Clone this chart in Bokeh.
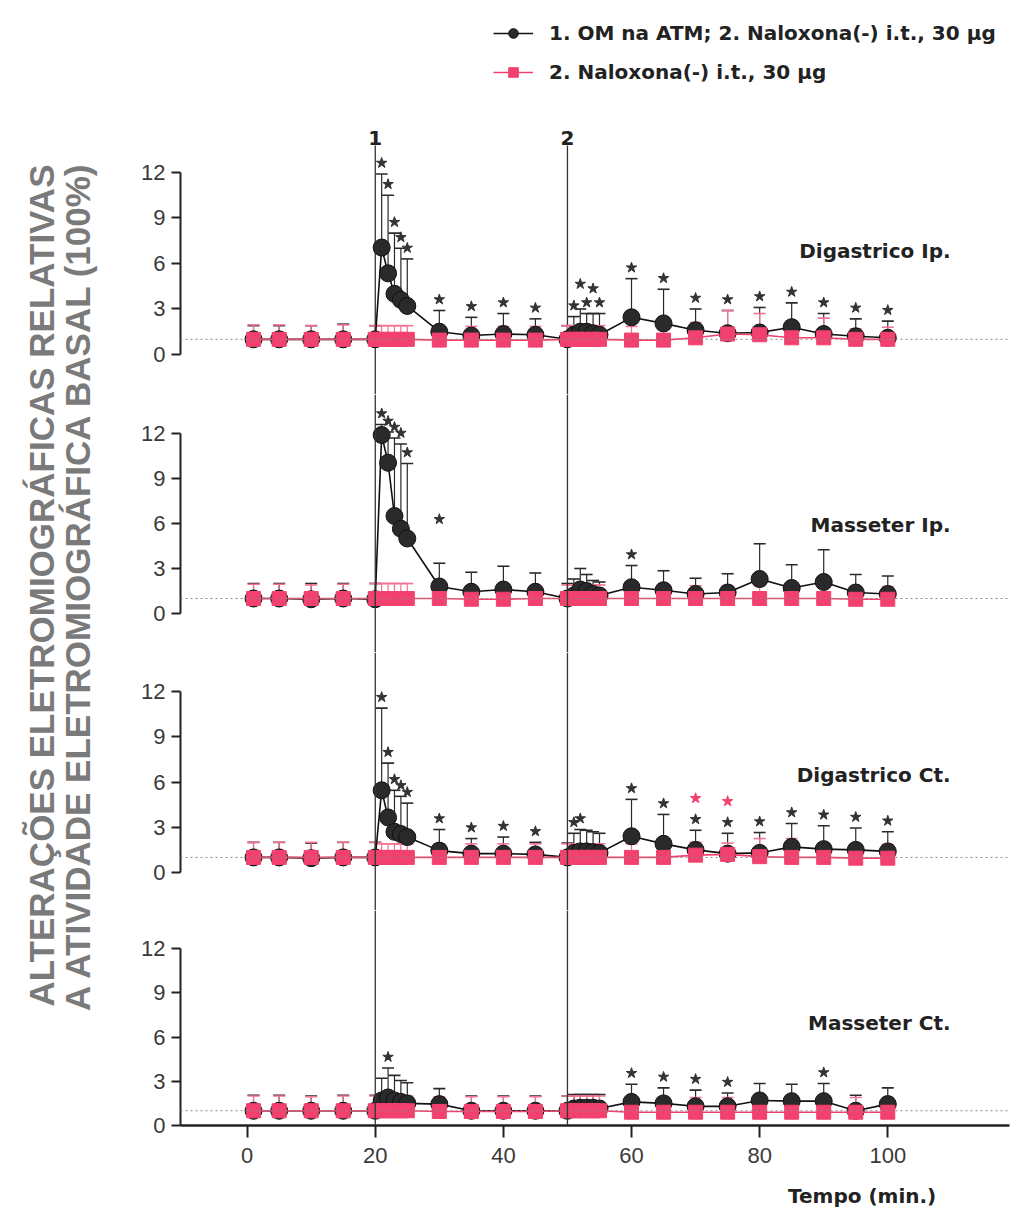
import math
from bokeh.plotting import figure
from bokeh.layouts import column, row
from bokeh.models import Range1d, Span, Label, Legend, LegendItem, FixedTicker
from bokeh.core.properties import value
from bokeh.embed import file_html
from bokeh.resources import INLINE

# ---------------- data ----------------
time_min = [1, 5, 10, 15, 20, 21, 22, 23, 24, 25, 30, 35, 40, 45, 50,
            51, 52, 53, 54, 55, 60, 65, 70, 75, 80, 85, 90, 95, 100]

panel_names = ["Digastrico Ip.", "Masseter Ip.", "Digastrico Ct.", "Masseter Ct."]

# Group 1: OM na ATM; Naloxona(-) i.t. 30 ug  (mean, upper error)
dig_ip_om = [1.0, 1.0, 1.0, 1.0, 1.0, 7.05, 5.35, 4.0, 3.6, 3.2, 1.5, 1.25, 1.35, 1.3, 1.0,
             1.3, 1.5, 1.5, 1.4, 1.3, 2.45, 2.05, 1.6, 1.4, 1.45, 1.8, 1.35, 1.2, 1.1]
dig_ip_om_err = [0.9, 0.9, 0.9, 1.0, 0.9, 4.85, 5.15, 4.0, 3.4, 3.1, 1.4, 1.2, 1.35, 1.05, 0.9,
                 1.2, 1.5, 1.2, 1.3, 1.4, 2.55, 2.25, 1.4, 1.5, 1.65, 1.6, 1.35, 1.15, 1.1]
mas_ip_om = [1.0, 1.0, 0.95, 1.0, 0.95, 11.9, 10.05, 6.5, 5.65, 5.0, 1.8, 1.45, 1.6, 1.45, 1.0,
             1.2, 1.6, 1.5, 1.3, 1.2, 1.75, 1.55, 1.3, 1.4, 2.3, 1.7, 2.1, 1.4, 1.3]
mas_ip_om_err = [1.0, 1.0, 1.05, 1.0, 1.05, 0.7, 2.05, 5.2, 5.65, 5.0, 1.55, 1.3, 1.55, 1.25, 1.0,
                 1.1, 1.4, 1.1, 0.9, 0.9, 1.45, 1.3, 1.05, 1.25, 2.35, 1.55, 2.15, 1.2, 1.2]
dig_ct_om = [1.0, 1.0, 0.95, 1.0, 1.0, 5.45, 3.65, 2.7, 2.55, 2.35, 1.45, 1.25, 1.25, 1.2, 1.0,
             1.3, 1.4, 1.4, 1.35, 1.3, 2.4, 1.9, 1.5, 1.25, 1.3, 1.7, 1.55, 1.5, 1.4]
dig_ct_om_err = [1.0, 1.0, 1.0, 1.0, 1.0, 5.45, 3.6, 2.75, 2.5, 2.25, 1.4, 1.0, 1.1, 0.8, 0.95,
                 1.3, 1.45, 1.4, 1.35, 1.3, 2.45, 1.95, 1.3, 1.35, 1.35, 1.55, 1.55, 1.45, 1.3]
mas_ct_om = [1.0, 1.0, 1.0, 1.0, 1.0, 1.7, 1.9, 1.7, 1.6, 1.5, 1.45, 1.0, 1.0, 1.0, 1.0,
             1.15, 1.2, 1.2, 1.2, 1.15, 1.6, 1.5, 1.3, 1.3, 1.7, 1.65, 1.65, 1.0, 1.45]
mas_ct_om_err = [1.05, 1.05, 1.0, 1.05, 1.05, 1.5, 2.0, 1.7, 1.45, 1.4, 1.05, 1.0, 1.0, 1.0, 1.0,
                 0.95, 0.9, 0.9, 0.9, 0.95, 1.2, 1.05, 1.1, 0.9, 1.15, 1.15, 1.2, 1.05, 1.1]

# Group 2: Naloxona(-) i.t. 30 ug only
dig_ip_nal = [1.0, 1.0, 1.0, 1.0, 1.0, 1.0, 1.0, 1.0, 1.0, 1.0, 0.95, 0.95, 0.95, 0.95, 1.0,
              1.0, 1.0, 1.0, 1.0, 1.0, 0.95, 0.95, 1.1, 1.35, 1.3, 1.1, 1.1, 1.0, 1.0]
dig_ip_nal_err = [0.95, 0.95, 0.9, 0.95, 0.9, 0.9, 0.9, 0.9, 0.9, 0.9, 0.9, 0.9, 0.9, 0.9, 0.9,
                  0.9, 0.9, 0.9, 0.9, 0.9, 0.9, 0.9, 1.0, 1.55, 1.4, 1.1, 1.3, 0.7, 0.8]
mas_ip_nal = [1.0, 1.0, 1.0, 1.0, 1.0, 1.0, 1.0, 1.0, 1.0, 1.0, 1.0, 0.95, 0.95, 1.0, 1.0,
              1.0, 1.0, 1.0, 1.0, 1.0, 1.0, 1.0, 1.0, 1.0, 1.0, 1.0, 1.0, 0.95, 0.95]
mas_ip_nal_err = [0.95, 0.95, 0.9, 0.95, 1.0, 1.0, 1.0, 1.0, 1.0, 1.0, 0.9, 0.85, 0.9, 0.85, 0.9,
                  0.9, 0.9, 0.9, 0.9, 0.9, 0.85, 0.85, 0.85, 0.85, 0.85, 0.85, 0.85, 0.85, 0.85]
dig_ct_nal = [1.0, 1.0, 1.0, 1.0, 1.0, 1.0, 1.0, 1.0, 1.0, 1.0, 1.0, 1.0, 1.0, 1.0, 1.0,
              1.0, 1.0, 1.0, 1.0, 1.0, 1.0, 1.0, 1.15, 1.2, 1.05, 1.0, 1.0, 0.95, 0.95]
dig_ct_nal_err = [1.0, 1.0, 1.0, 1.0, 1.0, 0.9, 0.9, 0.9, 0.9, 0.9, 0.9, 0.9, 0.9, 0.9, 0.9,
                  0.9, 0.9, 0.9, 0.9, 0.9, 0.9, 0.9, 0.85, 0.75, 1.2, 1.25, 0.9, 0.9, 0.9]
mas_ct_nal = [1.0, 1.0, 1.0, 1.0, 1.0, 1.0, 1.0, 1.0, 1.0, 1.0, 0.95, 0.95, 0.95, 0.95, 1.0,
              1.0, 1.0, 1.0, 1.0, 1.0, 0.9, 0.9, 0.9, 0.9, 0.9, 0.9, 0.9, 0.9, 0.9]
mas_ct_nal_err = [1.0, 1.0, 0.95, 1.0, 1.0, 1.0, 1.0, 1.0, 1.0, 1.0, 1.0, 1.0, 1.0, 1.0, 1.0,
                  1.0, 1.0, 1.0, 1.0, 1.0, 1.0, 1.0, 1.0, 1.0, 1.0, 1.0, 1.0, 1.0, 1.0]

om_means = [dig_ip_om, mas_ip_om, dig_ct_om, mas_ct_om]
om_errs = [dig_ip_om_err, mas_ip_om_err, dig_ct_om_err, mas_ct_om_err]
nal_means = [dig_ip_nal, mas_ip_nal, dig_ct_nal, mas_ct_nal]
nal_errs = [dig_ip_nal_err, mas_ip_nal_err, dig_ct_nal_err, mas_ct_nal_err]

# significance (*) per panel
sig_om = [
    [21, 22, 23, 24, 25, 30, 35, 40, 45, 51, 52, 53, 54, 55, 60, 65, 70, 75, 80, 85, 90, 95, 100],
    [21, 22, 23, 24, 25, 30, 60],
    [21, 22, 23, 24, 25, 30, 35, 40, 45, 51, 52, 60, 65, 70, 75, 80, 85, 90, 95, 100],
    [22, 60, 65, 70, 75, 90],
]
sig_nal = [[], [], [70, 75], []]

injection_times = [20, 50]
injection_labels = ["1", "2"]
x_ticks = [0, 20, 40, 60, 80, 100]
y_ticks = [0, 3, 6, 9, 12]
legend_labels = ["1. OM na ATM; 2. Naloxona(-) i.t., 30 \u00b5g", "2. Naloxona(-) i.t., 30 \u00b5g"]
y_title = ["ALTERA\u00c7\u00d5ES ELETROMIOGR\u00c1FICAS RELATIVAS",
           "A ATIVIDADE ELETROMIOGR\u00c1FICA BASAL (100%)"]
x_title = "Tempo (min.)"

# ---------------- layout / style ----------------
BLACK = "#2a2a2a"
PINK = "#f2416e"
PINK_ERR = "#f27394"
GRAY_TXT = "#7a7a7a"
TICK_TXT = "#3a3a3a"

PX_ZERO = [354, 613, 872, 1125]
PX_UNIT = [15.17, 15.0, 15.08, 14.75]
FR_TOP = [0, 394, 652, 910]
FR_BOT = [394, 652, 910, 1125]
BOTTOM_BORDER = 50
TOTAL_H = 1212
PANEL_W = 929
TITLE_W = 1029 - PANEL_W
STAR_LIFT_PX = 11
STAR_EXTRA_PX = [{52: 14, 54: 14}, {30: 33}, {}, {}]
PANEL_TITLE_Y_PX = [250, 524, 774, 1022]

x_range = Range1d(-10.4, 119.0)


def style_blank(p):
    p.outline_line_color = None
    p.grid.visible = False
    p.background_fill_color = "white"


figs = []
legend_items = []
for k in range(4):
    s = PX_UNIT[k]
    ystart = (PX_ZERO[k] - FR_BOT[k]) / s
    yend = (PX_ZERO[k] - FR_TOP[k]) / s
    last = (k == 3)
    p = figure(width=PANEL_W,
               height=FR_BOT[k] - FR_TOP[k] + (BOTTOM_BORDER if last else 0),
               x_range=x_range, y_range=Range1d(ystart, yend),
               output_backend="svg", toolbar_location=None,
               x_axis_location="below" if last else None,
               min_border_left=80, min_border_right=20,
               min_border_top=0, min_border_bottom=BOTTOM_BORDER if last else 0)
    style_blank(p)

    # y axis
    ya = p.yaxis[0]
    ya.ticker = FixedTicker(ticks=y_ticks)
    ya.bounds = (0, 12)
    ya.axis_line_width = 2
    ya.axis_line_color = "#222222"
    ya.major_tick_line_width = 2
    ya.major_tick_line_color = "#222222"
    ya.major_tick_out = 9
    ya.major_tick_in = 0
    ya.minor_tick_line_color = None
    ya.major_label_text_font = "Liberation Sans"
    ya.major_label_text_font_size = "22px"
    ya.major_label_text_color = TICK_TXT
    ya.major_label_standoff = 6

    if last:
        xa = p.xaxis[0]
        xa.ticker = FixedTicker(ticks=x_ticks)
        xa.axis_line_width = 2.5
        xa.axis_line_color = "#222222"
        xa.major_tick_line_width = 2
        xa.major_tick_line_color = "#222222"
        xa.major_tick_out = 12
        xa.major_tick_in = 0
        xa.minor_tick_line_color = None
        xa.major_label_text_font = "Liberation Sans"
        xa.major_label_text_font_size = "22px"
        xa.major_label_text_color = TICK_TXT
        xa.major_label_standoff = 10

    # baseline 100 %
    p.add_layout(Span(location=1, dimension="width", line_color="#8a8a8a",
                      line_dash="2 3", line_width=1))

    # injection lines
    if k == 0:
        top = (PX_ZERO[0] - 145) / s
        p.segment(x0=injection_times, y0=[ystart] * 2, x1=injection_times, y1=[top] * 2,
                  line_color="#333333", line_width=1.3)
        p.text(x=injection_times, y=[top] * 2, text=injection_labels,
               text_font=value("DejaVu Sans"), text_font_style="bold",
               text_font_size="20px", text_color="#222222",
               text_align="center", text_baseline="bottom", y_offset=-1)
    else:
        for t0 in injection_times:
            p.add_layout(Span(location=t0, dimension="height", line_color="#333333",
                              line_width=1.3))

    m1, e1 = om_means[k], om_errs[k]
    m2, e2 = nal_means[k], nal_errs[k]
    top1 = [a + b for a, b in zip(m1, e1)]
    top2 = [a + b for a, b in zip(m2, e2)]

    # error bars (upper only)
    p.segment(x0=time_min, y0=m1, x1=time_min, y1=top1, line_color=BLACK, line_width=1.2)
    p.scatter(x=time_min, y=top1, marker="dash", size=12, line_color=BLACK, line_width=1.6)
    p.segment(x0=time_min, y0=m2, x1=time_min, y1=top2, line_color=PINK_ERR, line_width=1.2)
    p.scatter(x=time_min, y=top2, marker="dash", size=12, line_color=PINK_ERR, line_width=1.6)

    l1 = p.line(time_min, m1, line_color="#111111", line_width=1.6)
    c1 = p.scatter(time_min, m1, marker="circle", size=17, fill_color=BLACK,
                   line_color="#111111", line_width=1)
    l2 = p.line(time_min, m2, line_color=PINK, line_width=1.6)
    c2 = p.scatter(time_min, m2, marker="square", size=14, fill_color=PINK,
                   line_color=PINK, line_width=1)
    if k == 0:
        legend_items = [LegendItem(label=legend_labels[0], renderers=[l1, c1]),
                        LegendItem(label=legend_labels[1], renderers=[l2, c2])]

    # significance stars
    sx, sy = [], []
    for t0 in sig_om[k]:
        i = time_min.index(t0)
        sx.append(t0)
        sy.append(top1[i] + (STAR_LIFT_PX + STAR_EXTRA_PX[k].get(t0, 0)) / s)
    if sx:
        p.scatter(sx, sy, marker="star", size=11, fill_color="#333333", line_color="#333333")
    px_, py_ = [], []
    for t0 in sig_nal[k]:
        i = time_min.index(t0)
        px_.append(t0)
        py_.append(top1[i] + (STAR_LIFT_PX + 21) / s)
    if px_:
        p.scatter(px_, py_, marker="star", size=11, fill_color=PINK, line_color=PINK)

    # panel title
    p.add_layout(Label(x=109.8, y=(PX_ZERO[k] - PANEL_TITLE_Y_PX[k]) / s, text=panel_names[k],
                       text_font="DejaVu Sans", text_font_style="bold", text_font_size="20px",
                       text_color="#222222", text_align="right", text_baseline="middle"))
    figs.append(p)

legend = Legend(items=legend_items, location=(313, 310), orientation="vertical",
                glyph_width=40, glyph_height=24, label_height=24, label_standoff=16,
                spacing=15, padding=0, margin=0, border_line_color=None,
                background_fill_alpha=0, label_text_font="DejaVu Sans",
                label_text_font_style="bold", label_text_font_size="20px",
                label_text_color="#222222")
figs[0].add_layout(legend)

# x-axis title strip (right-aligned under the axis)
used_h = FR_BOT[3] + BOTTOM_BORDER
xt = figure(width=PANEL_W, height=TOTAL_H - used_h, x_range=x_range,
            y_range=Range1d(0, TOTAL_H - used_h), output_backend="svg",
            toolbar_location=None, x_axis_location=None, y_axis_location=None,
            min_border_left=80, min_border_right=20, min_border_top=0, min_border_bottom=0)
style_blank(xt)
xt.text(x=[96.0], y=[(TOTAL_H - used_h) - 20], text=[x_title],
        text_font=value("DejaVu Sans"), text_font_style="bold", text_font_size="20px",
        text_color="#222222", text_align="center", text_baseline="middle")

# rotated y title in its own narrow panel
tf = figure(width=TITLE_W, height=TOTAL_H, x_range=Range1d(0, TITLE_W),
            y_range=Range1d(0, TOTAL_H), output_backend="svg", toolbar_location=None,
            x_axis_location=None, y_axis_location=None, min_border=0)
style_blank(tf)
tf.text(x=[41, 77], y=[TOTAL_H - 585] * 2, text=y_title, angle=math.pi / 2,
        text_font=value("Liberation Sans"), text_font_style="bold", text_font_size="35px",
        text_color=GRAY_TXT, text_align="center", text_baseline="middle")

layout = row(tf, column(*figs, xt, spacing=0), spacing=0)
open("out.html", "w").write(file_html(layout, INLINE))
